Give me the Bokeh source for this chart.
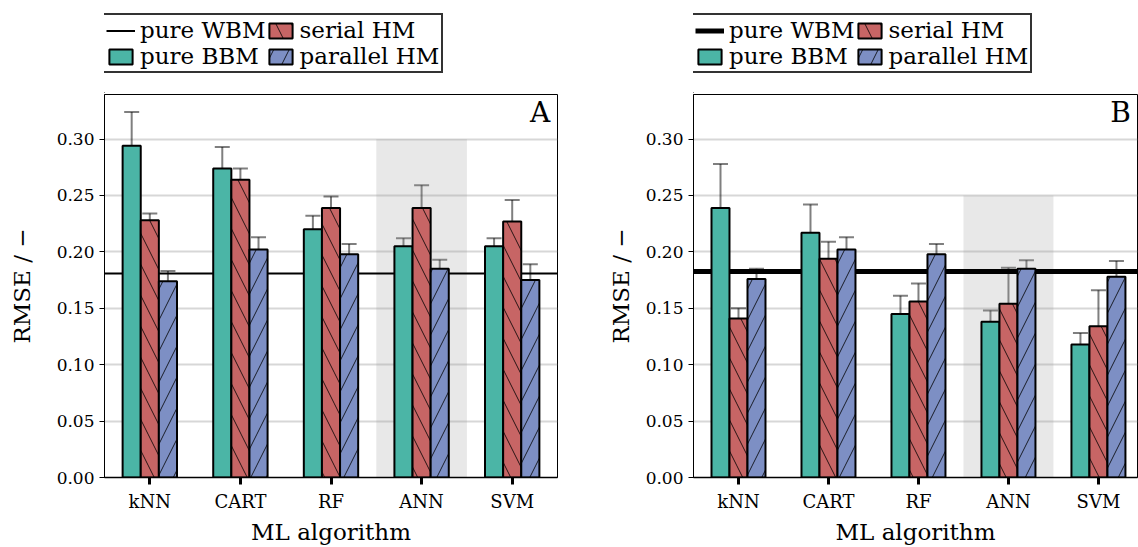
from bokeh.plotting import figure
from bokeh.models import (Range1d, FixedTicker, Whisker, TeeHead, ColumnDataSource,
                          Legend, LegendItem, Label, NumeralTickFormatter)
from bokeh.transform import dodge
from bokeh.layouts import row, column
from bokeh.embed import file_html
from bokeh.resources import INLINE

algorithms = ["kNN", "CART", "RF", "ANN", "SVM"]
highlight = "ANN"
y_ticks = [0.0, 0.05, 0.10, 0.15, 0.20, 0.25, 0.30]

# Panel A
a_wbm = 0.181
a_bbm = [0.294, 0.274, 0.220, 0.205, 0.205]
a_bbm_err = [0.030, 0.019, 0.012, 0.007, 0.007]
a_serial = [0.228, 0.264, 0.239, 0.239, 0.227]
a_serial_err = [0.006, 0.010, 0.010, 0.020, 0.019]
a_parallel = [0.174, 0.202, 0.198, 0.185, 0.175]
a_parallel_err = [0.009, 0.011, 0.009, 0.008, 0.014]
a_shade_top = 0.30

# Panel B
b_wbm = 0.1825
b_bbm = [0.239, 0.217, 0.145, 0.138, 0.118]
b_bbm_err = [0.039, 0.025, 0.016, 0.010, 0.010]
b_serial = [0.141, 0.194, 0.156, 0.154, 0.134]
b_serial_err = [0.009, 0.015, 0.016, 0.032, 0.032]
b_parallel = [0.176, 0.202, 0.198, 0.185, 0.178]
b_parallel_err = [0.009, 0.011, 0.009, 0.0075, 0.014]
b_shade_top = 0.25

FONT = "DejaVu Serif"
C_BBM = "#4bb5a6"
C_SER = "#c76565"
C_PAR = "#7d8fc4"
HATCHES = [None, "left_diagonal_line", "right_diagonal_line"]
COLORS = [C_BBM, C_SER, C_PAR]
LABELS = ["pure BBM", "serial HM", "parallel HM"]

LEG_H = 93
MAIN_H = 547 - LEG_H


def hatch_kw(h):
    if h is None:
        return {}
    return dict(hatch_pattern=h, hatch_color="black", hatch_alpha=0.8,
                hatch_scale=31, hatch_weight=1)


def make_legend_fig(width, wbm_width):
    f = figure(width=width, height=LEG_H, output_backend="svg", toolbar_location=None,
               x_range=Range1d(0, 1), y_range=Range1d(0, 1),
               x_axis_type=None, y_axis_type=None,
               min_border_left=0, min_border_right=0, min_border_top=0, min_border_bottom=0)
    f.outline_line_color = None
    f.xgrid.visible = False
    f.ygrid.visible = False
    # legend proxies, placed outside the visible range
    proxy_wbm = f.line(x=[-2, -1], y=[-2, -2], line_color="black", line_width=wbm_width)
    proxies = []
    for col, h in zip(COLORS, HATCHES):
        r = f.vbar(x=[-2], top=[-1], bottom=-2, width=0.2, fill_color=col,
                   line_color="black", line_width=2, **hatch_kw(h))
        proxies.append(r)
    legend = Legend(items=[
        LegendItem(label="pure WBM", renderers=[proxy_wbm]),
        LegendItem(label=LABELS[0], renderers=[proxies[0]]),
        LegendItem(label=LABELS[1], renderers=[proxies[1]]),
        LegendItem(label=LABELS[2], renderers=[proxies[2]]),
    ], location=(-2, 20), orientation="vertical", ncols=2,
        label_text_font=FONT, label_text_font_size="23px")
    legend.label_text_color = "black"
    legend.label_height = 22
    legend.glyph_height = 19
    legend.glyph_width = 29
    legend.label_standoff = 5
    legend.spacing = 0
    legend.padding = 2
    legend.margin = 0
    legend.border_line_color = "#333333"
    legend.border_line_width = 2
    legend.border_line_alpha = 1
    legend.background_fill_alpha = 1
    f.add_layout(legend, "center")
    return f


def make_panel(letter, wbm, bbm, bbm_err, ser, ser_err, par, par_err, shade_top,
               wbm_width, width, mb_left, mb_right, x_end, letter_x, ylab_standoff):
    p = figure(width=width, height=MAIN_H, output_backend="svg", toolbar_location=None,
               x_range=Range1d(-0.5, x_end), y_range=Range1d(0, 0.3395),
               min_border_left=mb_left, min_border_right=mb_right,
               min_border_top=1, min_border_bottom=66)
    p.outline_line_color = "black"
    p.outline_line_width = 1
    p.outline_line_alpha = 1

    xs = list(range(len(algorithms)))
    hi = algorithms.index(highlight)

    # highlighted algorithm
    p.quad(left=[hi - 0.5], right=[hi + 0.5], bottom=[0], top=[shade_top],
           fill_color="#9a9a9a", fill_alpha=0.23, line_color=None)

    # pure white-box model reference
    p.hspan(y=[wbm], line_color="black", line_width=wbm_width)

    series = [(bbm, bbm_err, -0.2), (ser, ser_err, 0.0), (par, par_err, 0.2)]
    for (vals, errs, off), col, h in zip(series, COLORS, HATCHES):
        src = ColumnDataSource(dict(
            x=xs, top=vals,
            upper=[v + e for v, e in zip(vals, errs)],
            lower=[v - e for v, e in zip(vals, errs)],
        ))
        p.vbar(x=dodge("x", off), top="top", bottom=0, width=0.2, source=src,
               fill_color=col, line_color="black", line_width=2, **hatch_kw(h))
        w = Whisker(base=dodge("x", off), upper="upper", lower="lower", source=src,
                    line_color="black", line_alpha=0.5, line_width=2,
                    upper_head=TeeHead(size=15, line_color="black", line_alpha=0.5, line_width=2),
                    lower_head=TeeHead(size=15, line_color="black", line_alpha=0.5, line_width=2))
        p.add_layout(w)

    lab = Label(x=letter_x, y=0.338, text=letter, text_align="right", text_baseline="top",
                text_font=FONT, text_font_size="28px", text_color="black")
    p.add_layout(lab)

    p.xaxis.ticker = FixedTicker(ticks=xs)
    p.xaxis.major_label_overrides = {i: a for i, a in zip(xs, algorithms)}
    p.yaxis.ticker = FixedTicker(ticks=y_ticks)
    p.yaxis.formatter = NumeralTickFormatter(format="0.00")
    p.xaxis.axis_label = "ML algorithm"
    p.yaxis.axis_label = "RMSE / \u2212"
    for ax in (p.xaxis, p.yaxis):
        ax.axis_label_text_font = FONT
        ax.axis_label_text_font_size = "23px"
        ax.axis_label_text_font_style = "normal"
        ax.axis_label_text_color = "black"
        ax.major_label_text_font = FONT
        ax.major_label_text_color = "black"
        ax.minor_tick_line_color = None
        ax.major_tick_in = 0
        ax.axis_line_color = "black"
    p.xaxis.major_label_text_font_size = "18px"
    p.yaxis.major_label_text_font_size = "17px"
    p.xaxis.major_tick_out = 7
    p.xaxis.major_tick_line_width = 3
    p.xaxis.axis_line_width = 1.5
    p.xaxis.major_label_standoff = 6
    p.xaxis.axis_label_standoff = 4
    p.yaxis.major_tick_out = 5
    p.yaxis.major_tick_line_width = 1
    p.yaxis.major_label_standoff = 5
    p.yaxis.axis_label_standoff = ylab_standoff

    p.xgrid.visible = False
    p.ygrid.ticker = FixedTicker(ticks=y_ticks)
    p.ygrid.grid_line_color = "#b0b0b0"
    p.ygrid.grid_line_alpha = 0.5
    p.ygrid.grid_line_width = 2
    return p


lA = make_legend_fig(604, 2)
pA = make_panel("A", a_wbm, a_bbm, a_bbm_err, a_serial, a_serial_err, a_parallel, a_parallel_err,
                a_shade_top, 2, 604, 104, 47, 4.5, 4.42, 19)
lB = make_legend_fig(534, 5)
pB = make_panel("B", b_wbm, b_bbm, b_bbm_err, b_serial, b_serial_err, b_parallel, b_parallel_err,
                b_shade_top, 5, 534, 86, 1, 4.434, 4.36, 9)

layout = row(column(lA, pA), column(lB, pB))
open("out.html", "w").write(file_html(layout, INLINE))
